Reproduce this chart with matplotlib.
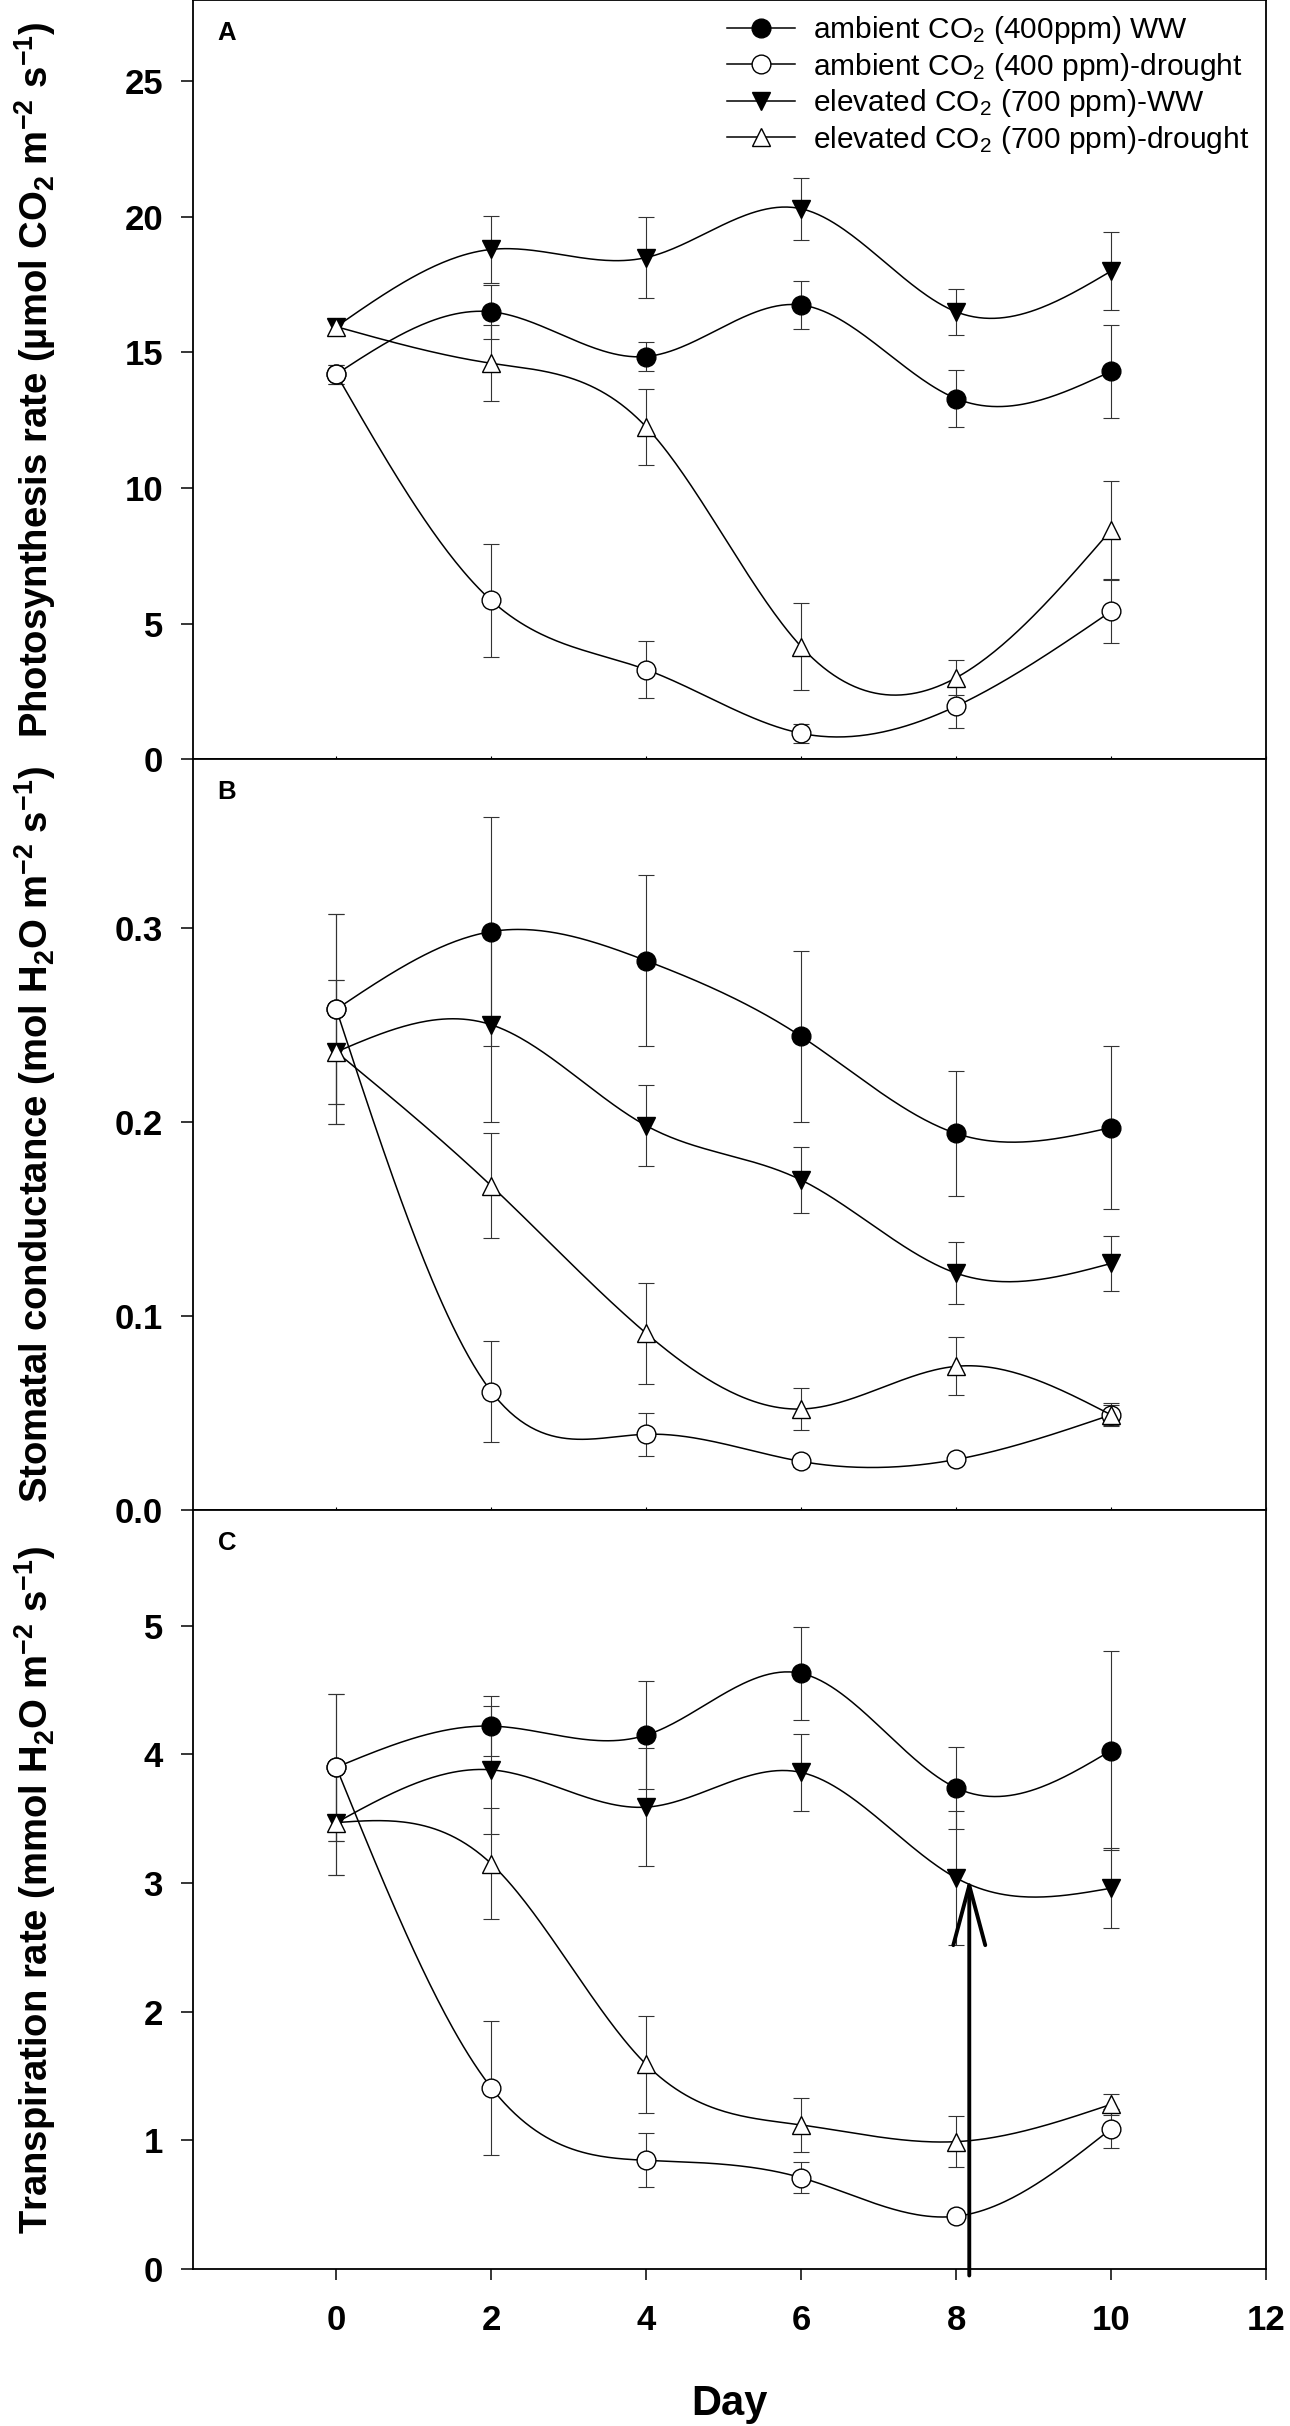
import numpy as np
import matplotlib.pyplot as plt
from matplotlib.lines import Line2D

plt.rcParams['font.family'] = ['Liberation Sans', 'DejaVu Sans']
plt.rcParams['mathtext.fontset'] = 'custom'
plt.rcParams['mathtext.rm'] = 'Liberation Sans'
plt.rcParams['mathtext.bf'] = 'Liberation Sans:bold'
plt.rcParams['mathtext.it'] = 'Liberation Sans:italic'
plt.rcParams['mathtext.default'] = 'rm'

days = [0, 2, 4, 6, 8, 10]

# A - photosynthesis rate
a_amb_ww = [14.2, 16.5, 14.85, 16.75, 13.3, 14.3]
a_amb_ww_err = [0.35, 1.0, 0.55, 0.9, 1.05, 1.7]
a_amb_dr = [14.2, 5.85, 3.3, 0.95, 1.95, 5.45]
a_amb_dr_err = [0.35, 2.1, 1.05, 0.35, 0.8, 1.15]
a_elv_ww = [15.95, 18.8, 18.5, 20.3, 16.5, 18.0]
a_elv_ww_err = [0.3, 1.25, 1.5, 1.15, 0.85, 1.45]
a_elv_dr = [15.95, 14.6, 12.25, 4.15, 3.0, 8.45]
a_elv_dr_err = [0.3, 1.4, 1.4, 1.6, 0.65, 1.8]

# B - stomatal conductance
b_amb_ww = [0.258, 0.298, 0.283, 0.244, 0.194, 0.197]
b_amb_ww_err = [0.049, 0.059, 0.044, 0.044, 0.032, 0.042]
b_amb_dr = [0.258, 0.061, 0.039, 0.025, 0.026, 0.049]
b_amb_dr_err = [0.049, 0.026, 0.011, 0.003, 0.002, 0.006]
b_elv_ww = [0.236, 0.25, 0.198, 0.17, 0.122, 0.127]
b_elv_ww_err = [0.037, 0.05, 0.021, 0.017, 0.016, 0.014]
b_elv_dr = [0.236, 0.167, 0.091, 0.052, 0.074, 0.049]
b_elv_dr_err = [0.037, 0.027, 0.026, 0.011, 0.015, 0.005]

# C - transpiration rate
c_amb_ww = [3.9, 4.22, 4.15, 4.63, 3.74, 4.03]
c_amb_ww_err = [0.57, 0.23, 0.42, 0.36, 0.32, 0.77]
c_amb_dr = [3.9, 1.41, 0.845, 0.71, 0.41, 1.09]
c_amb_dr_err = [0.57, 0.52, 0.21, 0.12, 0.03, 0.15]
c_elv_ww = [3.47, 3.88, 3.59, 3.86, 3.04, 2.96]
c_elv_ww_err = [0.41, 0.5, 0.46, 0.3, 0.52, 0.31]
c_elv_dr = [3.47, 3.15, 1.59, 1.12, 0.99, 1.28]
c_elv_dr_err = [0.41, 0.43, 0.38, 0.21, 0.2, 0.08]

legend_labels = ['ambient CO$_2$ (400ppm) WW',
                 'ambient CO$_2$ (400 ppm)-drought',
                 'elevated CO$_2$ (700 ppm)-WW',
                 'elevated CO$_2$ (700 ppm)-drought']

ylabels = ['Photosynthesis rate (\u00b5mol CO$_\\mathbf{2}$ m$^{\\mathbf{-2}}$ s$^{\\mathbf{-1}}$)',
           'Stomatal conductance (mol H$_\\mathbf{2}$O m$^{\\mathbf{-2}}$ s$^{\\mathbf{-1}}$)',
           'Transpiration rate (mmol H$_\\mathbf{2}$O m$^{\\mathbf{-2}}$ s$^{\\mathbf{-1}}$)']
panel_letters = ['A', 'B', 'C']
yticks = [[0, 5, 10, 15, 20, 25], [0.0, 0.1, 0.2, 0.3], [0, 1, 2, 3, 4, 5]]
ytick_fmt = ['{:.0f}', '{:.1f}', '{:.0f}']
ylims = [28.0, 0.387, 5.9]
xticks = [0, 2, 4, 6, 8, 10, 12]

arrow_day = 8.17
arrow_tip = 3.04


def natural_spline(x, y, n=300):
    x = np.asarray(x, float)
    y = np.asarray(y, float)
    h = np.diff(x)
    k = len(x)
    A = np.zeros((k, k))
    r = np.zeros(k)
    A[0, 0] = A[-1, -1] = 1
    for i in range(1, k - 1):
        A[i, i - 1] = h[i - 1]
        A[i, i] = 2 * (h[i - 1] + h[i])
        A[i, i + 1] = h[i]
        r[i] = 6 * ((y[i + 1] - y[i]) / h[i] - (y[i] - y[i - 1]) / h[i - 1])
    M = np.linalg.solve(A, r)
    xs = np.linspace(x[0], x[-1], n)
    idx = np.clip(np.searchsorted(x, xs) - 1, 0, k - 2)
    x0, x1 = x[idx], x[idx + 1]
    hh = x1 - x0
    a = (x1 - xs) / hh
    b = (xs - x0) / hh
    ys = a * y[idx] + b * y[idx + 1] + ((a**3 - a) * M[idx] + (b**3 - b) * M[idx + 1]) * hh**2 / 6
    return xs, ys


# draw order: filled first, open on top
panels = [
    [(a_amb_ww, a_amb_ww_err), (a_elv_ww, a_elv_ww_err), (a_amb_dr, a_amb_dr_err), (a_elv_dr, a_elv_dr_err)],
    [(b_amb_ww, b_amb_ww_err), (b_elv_ww, b_elv_ww_err), (b_amb_dr, b_amb_dr_err), (b_elv_dr, b_elv_dr_err)],
    [(c_amb_ww, c_amb_ww_err), (c_elv_ww, c_elv_ww_err), (c_amb_dr, c_amb_dr_err), (c_elv_dr, c_elv_dr_err)],
]
markers = ['o', 'v', 'o', '^']
faces = ['black', 'black', 'white', 'white']
ms = 13.5

fig = plt.figure(figsize=(12.9, 24.26), dpi=100)
left, width = 0.1496, 0.8318
bottoms = [0.6871, 0.3776, 0.0647]
heights = [0.3129, 0.3096, 0.3129]

axes = []
for p in range(3):
    ax = fig.add_axes([left, bottoms[p], width, heights[p]])
    axes.append(ax)
    for i, (vals, err) in enumerate(panels[p]):
        ax.errorbar(days, vals, yerr=err, fmt='none', ecolor='#333333', elinewidth=0.8,
                    capsize=6, capthick=0.8, zorder=2)
        xs, ys = natural_spline(days, vals)
        ax.plot(xs, ys, color='black', lw=1.1, zorder=3 + 2 * i)
        ax.plot(days, vals, ls='none', marker=markers[i], ms=ms, mfc=faces[i], mec='black',
                mew=1.0, zorder=4 + 2 * i)

    ax.set_xlim(-1.85, 12)
    ax.set_ylim(0, ylims[p])
    ax.set_yticks(yticks[p])
    ax.set_yticklabels([ytick_fmt[p].format(v) for v in yticks[p]], fontsize=25, fontweight='bold')
    ax.tick_params(axis='y', direction='out', length=8.6, width=1.1, pad=13)
    ax.set_xticks(xticks)
    for s in ax.spines.values():
        s.set_linewidth(1.3)
    ax.set_ylabel(ylabels[p], fontsize=27.5, fontweight='bold')
    ax.yaxis.set_label_coords(-0.126, 0.5)
    ax.text(0.023, 0.956, panel_letters[p], transform=ax.transAxes, fontsize=18.5,
            fontweight='bold', va='center', ha='left')
    if p < 2:
        ax.tick_params(axis='x', direction='in', length=2, width=0.8, labelbottom=False)
    else:
        ax.set_xticklabels([str(v) for v in xticks], fontsize=25, fontweight='bold')
        ax.tick_params(axis='x', direction='out', length=8, width=1.1, pad=17)
        ax.set_xlabel('Day', fontsize=30, fontweight='bold', labelpad=34)

# arrow in panel C
axes[2].annotate('', xy=(arrow_day, arrow_tip), xytext=(arrow_day, -0.05),
                 arrowprops=dict(arrowstyle='->,head_length=4.3,head_width=1.15', lw=2.8,
                                 color='black', shrinkA=0, shrinkB=0),
                 annotation_clip=False, zorder=20)

handle_order = [0, 2, 1, 3]
handles = [Line2D([], [], color='black', lw=1.1, marker=markers[i], ms=ms, mfc=faces[i],
                  mec='black', mew=1.0) for i in handle_order]
axes[0].legend(handles, legend_labels, loc='upper left', bbox_to_anchor=(0.498, 0.981),
               frameon=False, fontsize=21.5, handlelength=2.26, handletextpad=0.6,
               labelspacing=0.15, borderpad=0, borderaxespad=0)

fig.savefig('out.png', dpi=100)
